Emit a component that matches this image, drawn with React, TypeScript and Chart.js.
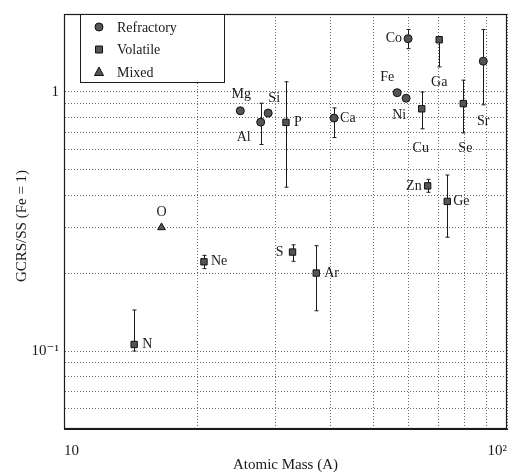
import React, { useEffect, useRef } from "react";
import { Chart, registerables } from "chart.js";
Chart.register(...registerables);

const elements = ["N", "O", "Ne", "Mg", "Al", "Si", "P", "S", "Ar", "Ca", "Fe", "Co", "Ni", "Cu", "Zn", "Ga", "Ge", "Se", "Sr"];
const atomicMass = [14.4, 16.6, 20.7, 25.0, 27.8, 28.9, 31.7, 32.8, 37.1, 40.7, 56.5, 59.8, 59.2, 64.2, 66.2, 70.3, 73.3, 79.7, 88.4];
const gcrsRatio = [0.106, 0.3, 0.221, 0.846, 0.765, 0.829, 0.763, 0.241, 0.2, 0.793, 0.994, 1.606, 0.946, 0.861, 0.434, 1.591, 0.378, 0.902, 1.315];
const errUpper = [0.144, null, 0.234, null, 0.905, null, 1.095, 0.257, 0.255, 0.868, null, 1.743, null, 1.0, 0.46, 1.591, 0.478, 1.111, 1.743];
const errLower = [0.1, null, 0.208, null, 0.627, null, 0.429, 0.222, 0.143, 0.667, null, 1.47, null, 0.721, 0.41, 1.25, 0.275, 0.695, 0.892];
const groups = ["Volatile", "Mixed", "Volatile", "Refractory", "Refractory", "Refractory", "Volatile", "Volatile", "Volatile", "Refractory", "Refractory", "Refractory", "Refractory", "Volatile", "Volatile", "Volatile", "Volatile", "Volatile", "Refractory"];
const groupNames = ["Refractory", "Volatile", "Mixed"];

const xTicks = [10, 20, 30, 40, 50, 60, 70, 80, 90, 100];
const xTickText = ["10", "", "", "", "", "", "", "", "", "10²"];
const yTicks = [0.05, 0.06, 0.07, 0.08, 0.09, 0.1, 0.2, 0.3, 0.4, 0.5, 0.6, 0.7, 0.8, 0.9, 1, 2];
const yTickText = ["", "", "", "", "", "10⁻¹", "", "", "", "", "", "", "", "", "1", ""];

const xTitle = "Atomic Mass (A)";
const yTitle = "GCRS/SS (Fe = 1)";

const SERIF = "'Liberation Serif', 'DejaVu Serif', serif";
const INK = "#1a1a1a";

const pointStyles: Record<string, string> = { Refractory: "circle", Volatile: "rect", Mixed: "triangle" };

function drawMarker(ctx: CanvasRenderingContext2D, style: string, x: number, y: number) {
  ctx.save();
  ctx.fillStyle = "#555";
  ctx.strokeStyle = "#111";
  ctx.lineWidth = 1;
  ctx.beginPath();
  if (style === "circle") ctx.arc(x, y, 4, 0, Math.PI * 2);
  else if (style === "rect") ctx.rect(x - 3.5, y - 3.5, 7, 7);
  else {
    ctx.moveTo(x, y - 5);
    ctx.lineTo(x + 4.5, y + 3.5);
    ctx.lineTo(x - 4.5, y + 3.5);
    ctx.closePath();
  }
  ctx.fill();
  ctx.stroke();
  ctx.restore();
}

// label placement: dx, dy, alignment
const labelPlace: Record<string, [number, number, CanvasTextAlign]> = {
  N: [8, 0, "left"], O: [0, -15, "center"], Ne: [7, 0, "left"], Mg: [1, -16, "center"],
  Al: [-17, 15, "center"], Si: [6, -15, "center"], P: [8, 0, "left"], S: [-9, 0, "right"],
  Ar: [8, 0, "left"], Ca: [6, 0, "left"], Fe: [-10, -15, "center"], Co: [-6, 0, "right"],
  Ni: [-7, 17, "center"], Cu: [-1, 40, "center"], Zn: [-6, 0, "right"], Ga: [0, 43, "center"],
  Ge: [6, 0, "left"], Se: [2, 45, "center"], Sr: [0, 60, "center"],
};

const overlayPlugin = {
  id: "overlay",
  beforeDatasetsDraw(chart: any) {
    const ctx = chart.ctx as CanvasRenderingContext2D;
    const xs = chart.scales.x, ys = chart.scales.y;
    ctx.save();
    ctx.strokeStyle = INK;
    ctx.lineWidth = 1;
    elements.forEach((_, i) => {
      const hi = errUpper[i], lo = errLower[i];
      if (hi == null || lo == null) return;
      const x = Math.round(xs.getPixelForValue(atomicMass[i])) + 0.5;
      const y1 = ys.getPixelForValue(hi), y2 = ys.getPixelForValue(lo);
      ctx.beginPath();
      ctx.moveTo(x, y1); ctx.lineTo(x, y2);
      ctx.moveTo(x - 2, y1); ctx.lineTo(x + 2, y1);
      ctx.moveTo(x - 2, y2); ctx.lineTo(x + 2, y2);
      ctx.stroke();
    });
    ctx.restore();
  },
  afterDraw(chart: any) {
    const ctx = chart.ctx as CanvasRenderingContext2D;
    const { left, right, top, bottom } = chart.chartArea;
    const xs = chart.scales.x, ys = chart.scales.y;
    ctx.save();
    // frame
    ctx.strokeStyle = INK;
    ctx.lineWidth = 1.2;
    ctx.strokeRect(left + 0.5, top + 0.5, right - left - 1, bottom - top - 1);
    // element labels
    ctx.fillStyle = INK;
    ctx.font = `14px ${SERIF}`;
    ctx.textBaseline = "middle";
    elements.forEach((el, i) => {
      const p = labelPlace[el] || [6, 0, "left"];
      const x = xs.getPixelForValue(atomicMass[i]);
      const y = ys.getPixelForValue(gcrsRatio[i]);
      ctx.textAlign = p[2];
      ctx.fillText(el, x + p[0], y + p[1]);
    });
    // legend
    const lx = 80, ly = 14, lw = 144, lh = 68;
    ctx.fillStyle = "#fff";
    ctx.fillRect(lx, ly, lw, lh);
    ctx.strokeStyle = INK;
    ctx.lineWidth = 1;
    ctx.strokeRect(lx + 0.5, ly + 0.5, lw, lh);
    groupNames.forEach((g, k) => {
      const yy = ly + 13 + k * 22.5;
      drawMarker(ctx, pointStyles[g], lx + 19, yy);
      ctx.fillStyle = INK;
      ctx.font = `14px ${SERIF}`;
      ctx.textAlign = "left";
      ctx.textBaseline = "middle";
      ctx.fillText(g, lx + 37, yy + 1);
    });
    // axis titles
    ctx.font = `15px ${SERIF}`;
    ctx.fillStyle = INK;
    ctx.textAlign = "center";
    ctx.textBaseline = "middle";
    ctx.fillText(xTitle, (left + right) / 2, 465);
    ctx.translate(22, 226);
    ctx.rotate(-Math.PI / 2);
    ctx.fillText(yTitle, 0, 0);
    ctx.restore();
  },
};

export default function App() {
  const ref = useRef<HTMLCanvasElement | null>(null);
  useEffect(() => {
    if (!ref.current) return;
    const datasets = groupNames.map((g) => {
      const data: { x: number; y: number }[] = [];
      elements.forEach((_, i) => {
        if (groups[i] === g) data.push({ x: atomicMass[i], y: gcrsRatio[i] });
      });
      return {
        label: g,
        data,
        pointStyle: pointStyles[g] as any,
        pointRadius: g === "Refractory" ? 4 : 4.5,
        backgroundColor: "#555",
        borderColor: "#111",
        borderWidth: 1,
        showLine: false,
      };
    });
    const chart = new Chart(ref.current, {
      type: "scatter",
      data: { datasets },
      options: {
        animation: false,
        responsive: false,
        maintainAspectRatio: false,
        layout: { padding: { top: 8, right: 13, left: 0, bottom: 0 } },
        plugins: { legend: { display: false }, tooltip: { enabled: false } },
        scales: {
          x: {
            type: "logarithmic",
            min: 10,
            max: 100,
            afterBuildTicks: (s: any) => { s.ticks = xTicks.map((v) => ({ value: v })); },
            afterFit: (s: any) => { s.height = 47; },
            ticks: {
              autoSkip: false,
              maxRotation: 0,
              align: "inner",
              padding: 13,
              color: INK,
              font: { family: SERIF, size: 15 },
              callback: (v: any) => {
                const i = xTicks.findIndex((t) => Math.abs(t - Number(v)) < 1e-6);
                return i >= 0 ? xTickText[i] : "";
              },
            },
            grid: { color: "#6a6a6a", lineWidth: 1, drawTicks: false },
            border: { display: true, color: INK, dash: [1, 2] },
          },
          y: {
            type: "logarithmic",
            min: 0.05,
            max: 2,
            afterBuildTicks: (s: any) => { s.ticks = yTicks.map((v) => ({ value: v })); },
            afterFit: (s: any) => { s.width = 64; },
            ticks: {
              autoSkip: false,
              padding: 5,
              color: INK,
              font: { family: SERIF, size: 15 },
              callback: (v: any) => {
                const i = yTicks.findIndex((t) => Math.abs(t - Number(v)) < 1e-9);
                return i >= 0 ? yTickText[i] : "";
              },
            },
            grid: { color: "#6a6a6a", lineWidth: 1, drawTicks: false },
            border: { display: true, color: INK, dash: [1, 2] },
          },
        },
      },
      plugins: [overlayPlugin],
    });
    return () => chart.destroy();
  }, []);
  return (
    <div style={{ position: "fixed", left: 0, top: 0, width: 520, height: 476, background: "#fff" }}>
      <canvas ref={ref} width={520} height={476} style={{ display: "block", width: 520, height: 476 }} />
    </div>
  );
}
